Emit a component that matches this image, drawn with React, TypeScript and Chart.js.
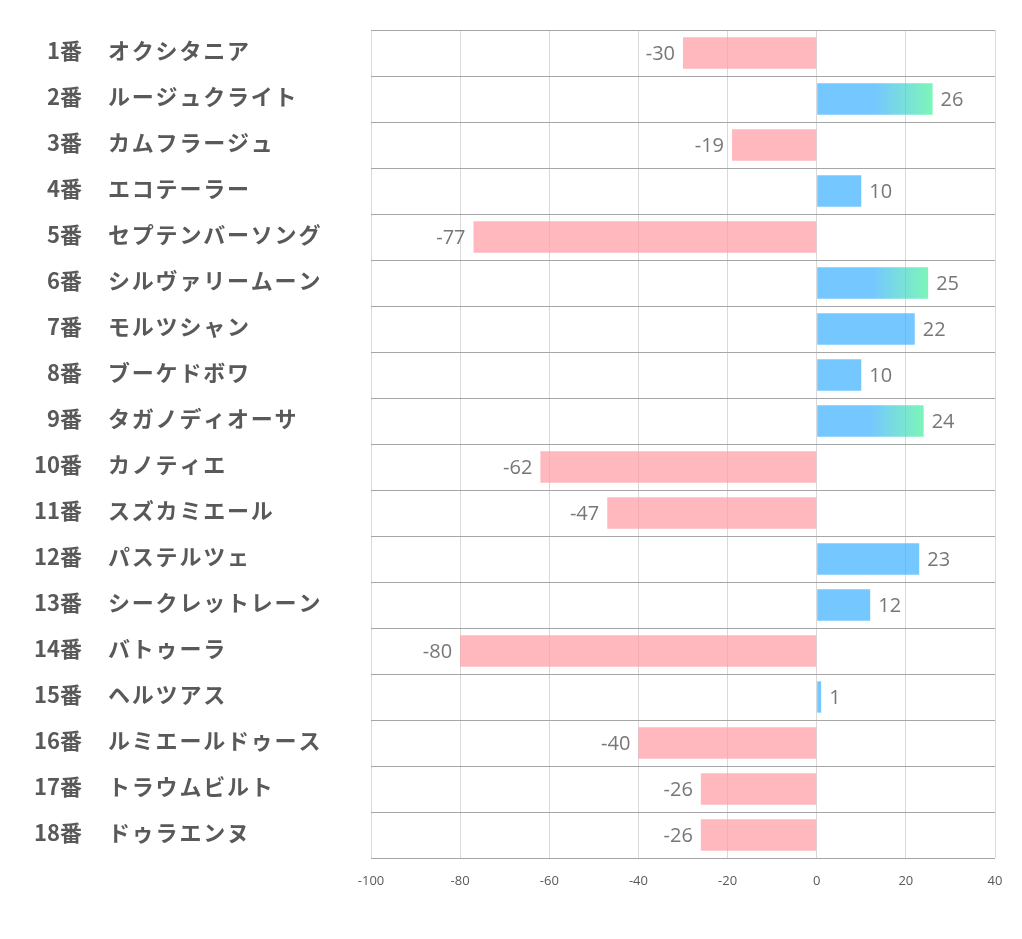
import React, { useEffect, useRef } from "react";
import { Chart, registerables } from "chart.js";

Chart.register(...registerables);

const horseNumbers: string[] = [
  "1番", "2番", "3番", "4番", "5番", "6番", "7番", "8番", "9番",
  "10番", "11番", "12番", "13番", "14番", "15番", "16番", "17番", "18番",
];
const horseNames: string[] = [
  "オクシタニア", "ルージュクライト", "カムフラージュ", "エコテーラー", "セプテンバーソング",
  "シルヴァリームーン", "モルツシャン", "ブーケドボワ", "タガノディオーサ", "カノティエ",
  "スズカミエール", "パステルツェ", "シークレットレーン", "バトゥーラ", "ヘルツアス",
  "ルミエールドゥース", "トラウムビルト", "ドゥラエンヌ",
];
const values: number[] = [-30, 26, -19, 10, -77, 25, 22, 10, 24, -62, -47, 23, 12, -80, 1, -40, -26, -26];
const xTicks: number[] = [-100, -80, -60, -40, -20, 0, 20, 40];

const PINK = "rgba(255,155,162,0.7)";
const BLUE = "rgba(58,176,255,0.7)";
const GREEN = "rgba(69,241,155,0.7)";

export default function App() {
  const ref = useRef<HTMLCanvasElement>(null);
  useEffect(() => {
    if (!ref.current) return;
    const sorted = [...values].sort((a, b) => b - a);
    const thirdBest = sorted[2];
    const labelPlugin = {
      id: "customLabels",
      afterDraw(chart: any) {
        const ctx = chart.ctx;
        const yScale = chart.scales.y;
        ctx.save();
        ctx.fillStyle = "#595959";
        ctx.font = "bold 22px 'Noto Sans CJK JP'";
        ctx.textBaseline = "middle";
        horseNumbers.forEach((n, i) => {
          const y = yScale.getPixelForValue(i) - 2;
          ctx.letterSpacing = "0px";
          ctx.textAlign = "right";
          ctx.fillText(n, 74, y);
          ctx.letterSpacing = "1.8px";
          ctx.textAlign = "left";
          ctx.fillText(horseNames[i], 100, y);
        });
        ctx.letterSpacing = "0px";
        const meta = chart.getDatasetMeta(0);
        ctx.font = "20px 'Open Sans'";
        ctx.fillStyle = "#777777";
        meta.data.forEach((bar: any, i: number) => {
          const v = values[i];
          if (v >= 0) {
            ctx.textAlign = "left";
            ctx.fillText(String(v), bar.x + 8, bar.y + 1);
          } else {
            ctx.textAlign = "right";
            ctx.fillText(String(v), bar.x - 8, bar.y + 1);
          }
        });
        ctx.restore();
      },
    };
    const chart = new Chart(ref.current, {
      type: "bar",
      data: {
        labels: horseNames,
        datasets: [
          {
            data: values,
            barPercentage: 0.68,
            categoryPercentage: 1,
            backgroundColor: (c: any) => {
              const v = values[c.dataIndex];
              if (v < 0) return PINK;
              if (v >= thirdBest && c.chart.scales && c.chart.scales.x) {
                const xs = c.chart.scales.x;
                const x0 = xs.getPixelForValue(0);
                const x1 = xs.getPixelForValue(v);
                if (isFinite(x0) && isFinite(x1) && x1 > x0) {
                  const g = c.chart.ctx.createLinearGradient(x0, 0, x1, 0);
                  g.addColorStop(0, BLUE);
                  g.addColorStop(0.5, BLUE);
                  g.addColorStop(1, GREEN);
                  return g;
                }
              }
              return BLUE;
            },
            borderWidth: 0,
          },
        ],
      },
      options: {
        indexAxis: "y",
        responsive: false,
        animation: false,
        layout: { padding: { left: 363, top: 22, right: 19, bottom: 0 } },
        plugins: { legend: { display: false }, tooltip: { enabled: false } },
        scales: {
          x: {
            min: -100,
            max: 40,
            afterBuildTicks: (s: any) => {
              s.ticks = xTicks.map((v) => ({ value: v }));
            },
            afterFit: (s: any) => {
              s.height = 73;
              s.paddingLeft = 0;
              s.paddingRight = 0;
            },
            grid: { color: "#d9d9d9", lineWidth: 1, drawTicks: false },
            border: { display: false },
            ticks: {
              color: "#595959",
              font: { family: "'Open Sans'", size: 13 },
              padding: 15,
            },
          },
          y: {
            afterFit: (s: any) => {
              s.width = 0;
            },
            grid: { color: "#a6a6a6", lineWidth: 1, drawTicks: false, offset: true },
            border: { display: false },
            ticks: { display: false },
          },
        },
      },
      plugins: [labelPlugin],
    } as any);
    return () => chart.destroy();
  }, []);
  return <canvas ref={ref} width={1006} height={923} style={{ display: "block" }} />;
}
